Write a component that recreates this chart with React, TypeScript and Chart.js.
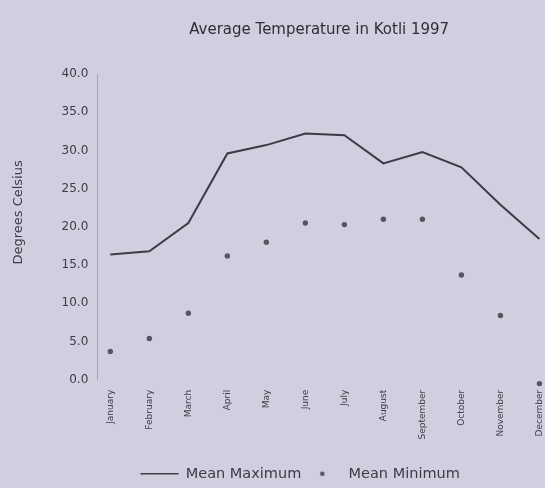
import React, { useEffect, useRef } from 'react';
import { Chart, registerables } from 'chart.js';

Chart.register(...registerables);

const months = ['January', 'February', 'March', 'April', 'May', 'June', 'July', 'August', 'September', 'October', 'November', 'December'];
const meanMaximum = [16.4, 16.8, 20.5, 29.6, 30.7, 32.2, 32.0, 28.3, 29.8, 27.8, 22.9, 18.4];
const meanMinimum = [3.7, 5.4, 8.7, 16.2, 18.0, 20.5, 20.3, 21.0, 21.0, 13.7, 8.4, -0.5];
const yTickValues = [0, 5, 10, 15, 20, 25, 30, 35, 40];

const BG = '#cfcfdf';
const INK = '#3c3c46';
const FONT = "'DejaVu Sans', sans-serif";

const legendShift = {
  id: 'legendShift',
  afterLayout(chart: any) {
    const lg = chart.legend;
    if (lg) {
      lg.left -= 19;
      lg.right -= 19;
      lg.top += 3;
      lg.bottom += 3;
    }
  },
};

export default function App() {
  const ref = useRef<HTMLCanvasElement>(null);

  useEffect(() => {
    document.body.style.margin = '0';
    document.body.style.background = BG;
    const canvas = ref.current;
    if (!canvas) return;

    const dot = document.createElement('canvas');
    dot.width = 8;
    dot.height = 8;
    const dctx = dot.getContext('2d');
    if (dctx) {
      dctx.fillStyle = '#55555f';
      dctx.beginPath();
      dctx.arc(4, 4, 2.3, 0, Math.PI * 2);
      dctx.fill();
    }

    const chart = new Chart(canvas, {
      type: 'line',
      data: {
        datasets: [
          {
            label: 'Mean Maximum',
            data: meanMaximum.map((v, i) => ({ x: i, y: v })),
            borderColor: INK,
            backgroundColor: INK,
            borderWidth: 2,
            pointRadius: 0,
            tension: 0,
          },
          {
            label: 'Mean Minimum',
            data: meanMinimum.map((v, i) => ({ x: i, y: v })),
            showLine: false,
            borderColor: '#55555f',
            backgroundColor: '#55555f',
            pointRadius: 2.7,
            pointBorderWidth: 0,
            clip: false,
          },
        ],
      },
      plugins: [legendShift],
      options: {
        animation: false,
        responsive: false,
        maintainAspectRatio: false,
        layout: { padding: { left: 7, right: 0, top: 0, bottom: 0 } },
        plugins: {
          title: {
            display: true,
            text: 'Average Temperature in Kotli 1997',
            color: '#2e2e38',
            font: { family: FONT, size: 15, weight: 'normal' },
            padding: { top: 21, bottom: 35 },
            fullSize: false,
          },
          legend: {
            position: 'bottom',
            fullSize: false,
            labels: {
              color: INK,
              font: { family: FONT, size: 14.5 },
              usePointStyle: true,
              pointStyleWidth: 38,
              boxHeight: 14,
              padding: 2,
              generateLabels: (c: any) => {
                const base = Chart.defaults.plugins.legend.labels.generateLabels(c);
                return base.map((l: any, i: number) => ({
                  ...l,
                  pointStyle: i === 0 ? 'line' : dot,
                  lineWidth: i === 0 ? 1.5 : 0,
                  strokeStyle: INK,
                }));
              },
            },
          },
          tooltip: { enabled: false },
        },
        scales: {
          x: {
            type: 'linear',
            min: -0.333,
            max: 11.04,
            grid: { display: false, drawTicks: false },
            border: { display: false },
            afterBuildTicks: (scale: any) => {
              scale.ticks = months.map((_, i) => ({ value: i }));
            },
            afterFit: (scale: any) => {
              scale.paddingRight = 0;
              scale.paddingLeft = 0;
              scale.height += 12;
            },
            ticks: {
              autoSkip: false,
              minRotation: 90,
              maxRotation: 90,
              padding: 10,
              color: INK,
              font: { family: FONT, size: 9 },
              callback: (v: any) => months[Math.round(Number(v))] ?? '',
            },
          },
          y: {
            min: 0,
            max: 40,
            grid: { display: false, drawTicks: false },
            border: { display: true, color: 'rgba(110,110,130,0.45)', width: 1 },
            afterBuildTicks: (scale: any) => {
              scale.ticks = yTickValues.map((v) => ({ value: v }));
            },
            ticks: {
              padding: 9,
              color: INK,
              font: { family: FONT, size: 12 },
              callback: (v: any) => Number(v).toFixed(1),
            },
            title: {
              display: true,
              text: '       Degrees Celsius',
              color: INK,
              font: { family: FONT, size: 13 },
              padding: { top: 4, bottom: 26 },
            },
          },
        },
      },
    });

    return () => chart.destroy();
  }, []);

  return (
    <div style={{ width: 545, height: 488, background: BG }}>
      <canvas ref={ref} width={545} height={488} style={{ display: 'block' }} />
    </div>
  );
}
